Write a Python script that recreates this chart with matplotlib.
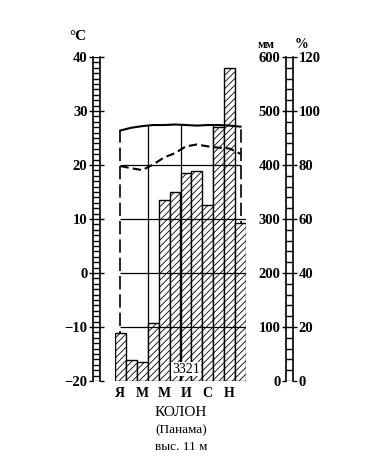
import matplotlib
matplotlib.use('Agg')
import matplotlib.pyplot as plt
import numpy as np

plt.rcParams['font.family'] = ['Liberation Serif', 'DejaVu Serif']
plt.rcParams['hatch.linewidth'] = 0.6

# monthly data, Colon (Panama)
months = ['Я', '', 'М', '', 'М', '', 'И', '', 'С', '', 'Н', '']
temp = [26.4, 26.9, 27.2, 27.4, 27.4, 27.5, 27.4, 27.3, 27.4, 27.4, 27.3, 27.1]
precip = [89, 39, 36, 107, 335, 350, 386, 389, 326, 471, 580, 293]
humid = [79.6, 78.8, 78.1, 80.2, 82.8, 84.4, 86.9, 87.6, 86.9, 86.4, 86.1, 84.1]
total = '3321'
t_ticks = [40, 30, 20, 10, 0, -10, -20]
mm_ticks = [600, 500, 400, 300, 200, 100, 0]
pc_ticks = [120, 100, 80, 60, 40, 20, 0]

W, H = 373, 465
fig = plt.figure(figsize=(W / 100, H / 100), dpi=100)

y0, y1 = 381, 57
bot = (H - y0) / H
hgt = (y0 - y1) / H

x = np.arange(12) + 0.5

# base axis (temperature): lines drawn behind the bars
ax = fig.add_axes([115 / W, bot, 131 / W, hgt])
ax.set_xlim(0, 12)
ax.set_ylim(-20, 40)
for s in ax.spines.values():
    s.set_visible(False)
ax.set_yticks([])
ax.set_xticks(x)
ax.set_xticklabels(months, fontsize=10, fontweight='bold')
ax.tick_params(axis='x', length=0, pad=4)

ax.vlines([0.5, 11.5], -20, [temp[0], temp[-1]], colors='black', lw=1.2,
          linestyles=(0, (8, 3)))
for b in [3, 6, 9]:
    ax.vlines(b, -20, np.interp(b - 0.5, x, temp), colors='black', lw=0.9)

# precipitation bars
axb = ax.twinx()
axb.set_ylim(0, 600)
axb.set_axis_off()
axb.bar(x, precip, width=1, facecolor='white', edgecolor='black', hatch='/////',
        lw=1.0)

# temperature overlay: grid lines and curve on top of the bars
axt = ax.twinx()
axt.set_ylim(-20, 40)
axt.set_axis_off()
axt.hlines([-10, 0, 10], 0.5, 12, colors='black', lw=0.9)
axt.hlines(20, 0.5, 11.5, colors='black', lw=0.9)
axt.plot(x, temp, color='black', lw=1.5)
axt.text(6.5, -19.0, total, ha='center', va='bottom', fontsize=10,
         bbox=dict(facecolor='white', edgecolor='none', pad=0.5), zorder=5)

# relative humidity
axh = ax.twinx()
axh.set_ylim(0, 120)
axh.set_axis_off()
axh.plot(x, humid, color='black', lw=1.5, linestyle=(0, (4, 2)))

# left ladder scale (temperature)
axl = fig.add_axes([93 / W, bot, 7 / W, hgt])
axl.set_xlim(0, 1)
axl.set_ylim(-20, 40)
axl.hlines(np.arange(-20, 41, 1), 0, 1, colors='black', lw=1.0)
for k in ['top', 'bottom']:
    axl.spines[k].set_visible(False)
for k in ['left', 'right']:
    axl.spines[k].set_linewidth(1.2)
axl.set_xticks([])
axl.set_yticks(t_ticks)
axl.set_yticklabels([str(t).replace('-', '−') for t in t_ticks], fontsize=10.5,
                    fontweight='bold')
axl.tick_params(axis='y', length=3, width=1, pad=1, left=True, right=True)

# right ladder scale (mm and %)
axr = fig.add_axes([286 / W, bot, 7 / W, hgt])
axr.set_xlim(0, 1)
axr.set_ylim(0, 600)
axr.hlines(np.arange(0, 601, 20), 0, 1, colors='black', lw=1.0)
for k in ['top', 'bottom']:
    axr.spines[k].set_visible(False)
for k in ['left', 'right']:
    axr.spines[k].set_linewidth(1.2)
axr.set_xticks([])
axr.set_yticks(mm_ticks)
axr.set_yticklabels([str(t) for t in mm_ticks], fontsize=10.5, fontweight='bold')
axr.tick_params(axis='y', length=3, width=1, pad=1)
axp = axr.twinx()
axp.set_ylim(0, 120)
for s in axp.spines.values():
    s.set_visible(False)
axp.set_yticks(pc_ticks)
axp.set_yticklabels([str(t) for t in pc_ticks], fontsize=10.5, fontweight='bold')
axp.tick_params(axis='y', length=3, width=1, pad=1)

# unit labels
fig.text(78 / W, 1 - 36 / H, '°C', ha='center', va='center', fontsize=11, fontweight='bold')
fig.text(266 / W, 1 - 45 / H, 'мм', ha='center', va='center', fontsize=9, fontweight='bold')
fig.text(301 / W, 1 - 44 / H, '%', ha='center', va='center', fontsize=10, fontweight='bold')

# station caption
fig.text(181 / W, 1 - 412 / H, 'КОЛОН', ha='center', va='center', fontsize=11)
fig.text(181 / W, 1 - 430 / H, '(Панама)', ha='center', va='center', fontsize=9.5)
fig.text(181 / W, 1 - 447 / H, 'выс. 11 м', ha='center', va='center', fontsize=9.5)

fig.savefig('out.png', dpi=100)
